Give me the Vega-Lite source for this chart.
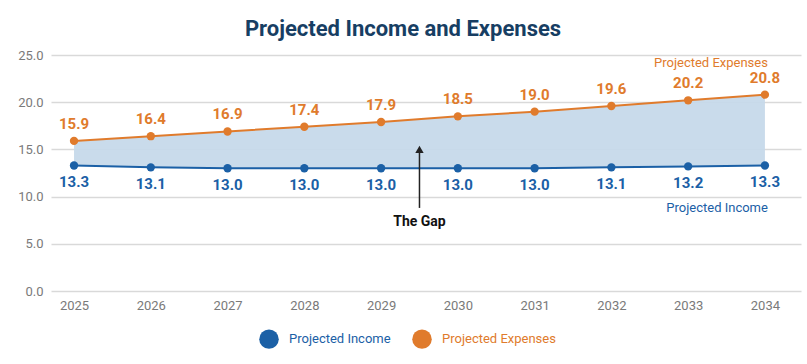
{
  "$schema": "https://vega.github.io/schema/vega-lite/v6.json",
  "width": 750,
  "height": 236,
  "padding": {"left": 17, "right": 5, "top": 18, "bottom": 5},
  "background": "white",
  "title": {"text": "Projected Income and Expenses", "font": "Roboto", "fontSize": 22, "fontWeight": "bold", "color": "#173e63", "offset": 8, "anchor": "middle", "dx": -23},
  "config": {"view": {"stroke": null}, "font": "Roboto"},
  "data": {"values": [
    {"year": 2025, "series": "Projected Income", "value": 13.3},
    {"year": 2026, "series": "Projected Income", "value": 13.1},
    {"year": 2027, "series": "Projected Income", "value": 13.0},
    {"year": 2028, "series": "Projected Income", "value": 13.0},
    {"year": 2029, "series": "Projected Income", "value": 13.0},
    {"year": 2030, "series": "Projected Income", "value": 13.0},
    {"year": 2031, "series": "Projected Income", "value": 13.0},
    {"year": 2032, "series": "Projected Income", "value": 13.1},
    {"year": 2033, "series": "Projected Income", "value": 13.2},
    {"year": 2034, "series": "Projected Income", "value": 13.3},
    {"year": 2025, "series": "Projected Expenses", "value": 15.9},
    {"year": 2026, "series": "Projected Expenses", "value": 16.4},
    {"year": 2027, "series": "Projected Expenses", "value": 16.9},
    {"year": 2028, "series": "Projected Expenses", "value": 17.4},
    {"year": 2029, "series": "Projected Expenses", "value": 17.9},
    {"year": 2030, "series": "Projected Expenses", "value": 18.5},
    {"year": 2031, "series": "Projected Expenses", "value": 19.0},
    {"year": 2032, "series": "Projected Expenses", "value": 19.6},
    {"year": 2033, "series": "Projected Expenses", "value": 20.2},
    {"year": 2034, "series": "Projected Expenses", "value": 20.8}
  ]},
  "layer": [
    {
      "transform": [{"pivot": "series", "value": "value", "groupby": ["year"]}],
      "mark": {"type": "area", "color": "#c6d9ea", "opacity": 0.95},
      "encoding": {
        "x": {"field": "year", "type": "quantitative",
          "scale": {"domain": [2024.7, 2034.47], "nice": false, "zero": false},
          "axis": {"values": [2025,2026,2027,2028,2029,2030,2031,2032,2033,2034], "format": "d", "title": null, "grid": false, "domain": false, "ticks": false, "labelFontSize": 13, "labelColor": "#7a7a7a", "labelPadding": 8, "labelFont": "Roboto"}},
        "y": {"field": "Projected Income", "type": "quantitative",
          "scale": {"domain": [0, 25], "nice": false},
          "axis": {"values": [0,5,10,15,20,25], "format": ".1f", "title": null, "domain": false, "ticks": false, "gridColor": "#d9d9d9", "gridWidth": 1.5, "labelFontSize": 13, "labelColor": "#7a7a7a", "labelPadding": 8}},
        "y2": {"field": "Projected Expenses"}
      }
    },
    {
      "mark": {"type": "line", "strokeWidth": 2},
      "encoding": {
        "x": {"field": "year", "type": "quantitative"},
        "y": {"field": "value", "type": "quantitative"},
        "color": {"field": "series", "type": "nominal",
          "scale": {"domain": ["Projected Income", "Projected Expenses"], "range": ["#1b60a6", "#e07b2c"]},
          "legend": {"title": null, "orient": "none", "legendX": 208, "legendY": 274, "direction": "horizontal", "symbolType": "circle", "symbolSize": 380, "labelFontSize": 13, "columnPadding": 21, "labelOffset": 10, "symbolStrokeWidth": 0, "labelFont": "Roboto",
            "encode": {"labels": {"update": {"fill": {"signal": "datum.value === 'Projected Income' ? '#1b60a6' : '#e07b2c'"}}}}}}
      }
    },
    {
      "mark": {"type": "point", "filled": true, "size": 70, "opacity": 1},
      "encoding": {
        "x": {"field": "year", "type": "quantitative"},
        "y": {"field": "value", "type": "quantitative"},
        "color": {"field": "series", "type": "nominal"}
      }
    },
    {
      "transform": [{"filter": "datum.series === 'Projected Expenses'"}],
      "mark": {"type": "text", "dy": -17, "fontWeight": "bold", "fontSize": 15, "color": "#e07b2c"},
      "encoding": {
        "x": {"field": "year", "type": "quantitative"},
        "y": {"field": "value", "type": "quantitative"},
        "text": {"field": "value", "type": "quantitative", "format": ".1f"}
      }
    },
    {
      "transform": [{"filter": "datum.series === 'Projected Income'"}],
      "mark": {"type": "text", "dy": 17, "fontWeight": "bold", "fontSize": 15, "color": "#1b60a6"},
      "encoding": {
        "x": {"field": "year", "type": "quantitative"},
        "y": {"field": "value", "type": "quantitative"},
        "text": {"field": "value", "type": "quantitative", "format": ".1f"}
      }
    },
    {
      "transform": [{"filter": "datum.year === 2025 && datum.series === 'Projected Income'"}],
      "mark": {"type": "rule", "color": "#222222", "strokeWidth": 1.5},
      "encoding": {"x": {"datum": 2029.5}, "y": {"datum": 8.8}, "y2": {"datum": 14.8}}
    },
    {
      "transform": [{"filter": "datum.year === 2025 && datum.series === 'Projected Income'"}],
      "mark": {"type": "point", "shape": "triangle-up", "filled": true, "size": 70, "color": "#222222", "opacity": 1},
      "encoding": {"x": {"datum": 2029.5}, "y": {"datum": 15.0}}
    },
    {
      "transform": [{"filter": "datum.year === 2025 && datum.series === 'Projected Income'"}],
      "mark": {"type": "text", "fontWeight": "bold", "fontSize": 14, "color": "#111111", "text": "The Gap"},
      "encoding": {"x": {"datum": 2029.5}, "y": {"datum": 7.3}}
    },
    {
      "transform": [{"filter": "datum.year === 2025 && datum.series === 'Projected Income'"}],
      "mark": {"type": "text", "fontSize": 13, "color": "#e07b2c", "align": "right", "dx": 3, "text": "Projected Expenses"},
      "encoding": {"x": {"datum": 2034}, "y": {"datum": 24.15}}
    },
    {
      "transform": [{"filter": "datum.year === 2025 && datum.series === 'Projected Income'"}],
      "mark": {"type": "text", "fontSize": 13, "color": "#1b60a6", "align": "right", "dx": 3, "text": "Projected Income"},
      "encoding": {"x": {"datum": 2034}, "y": {"datum": 8.8}}
    }
  ]
}
